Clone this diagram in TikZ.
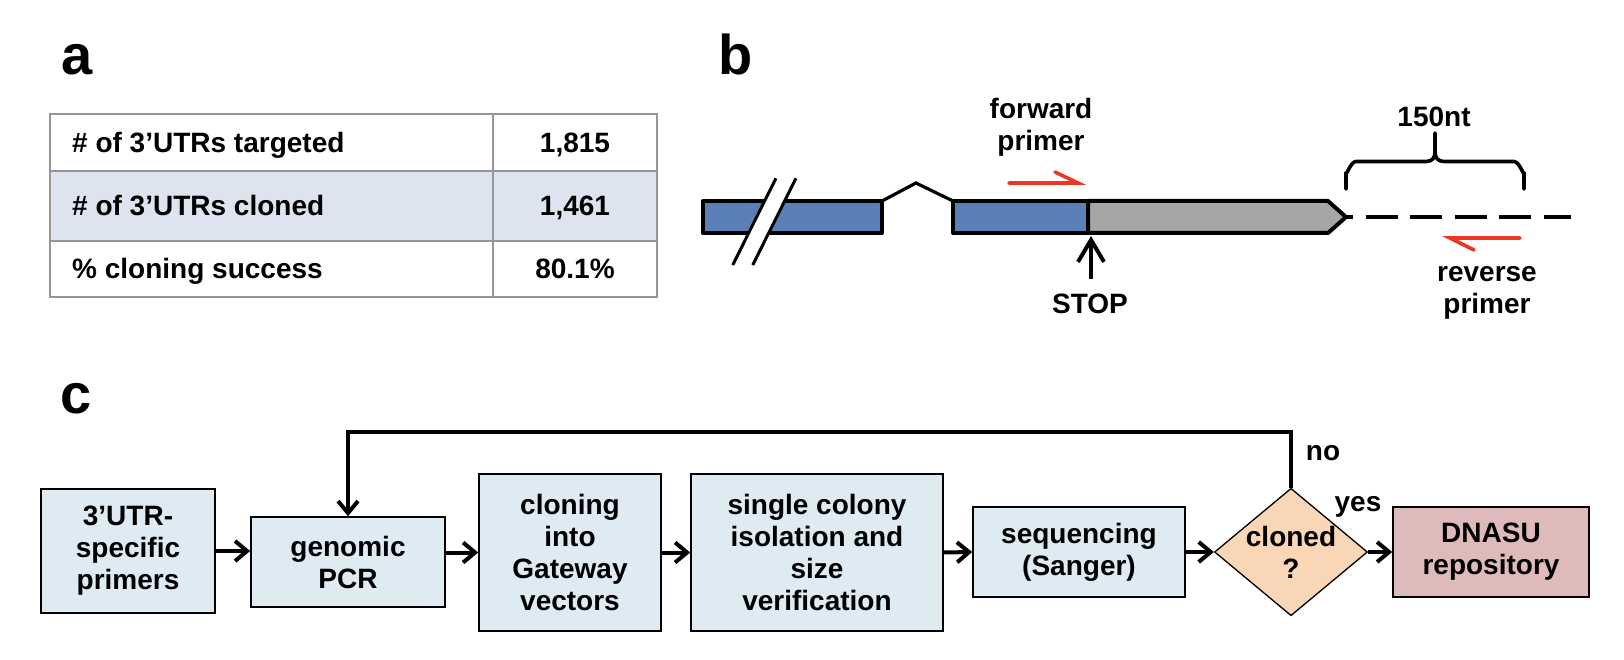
\documentclass[tikz,border=0pt]{standalone}
\usepackage{fontspec}
\setmainfont{Liberation Sans}
\usepackage{xcolor}
\usetikzlibrary{shapes.geometric,arrows.meta}

\definecolor{exonblue}{RGB}{90,128,182}
\definecolor{utrgray}{RGB}{166,166,166}
\definecolor{rowblue}{RGB}{221,228,240}
\definecolor{gridgray}{RGB}{150,150,150}
\definecolor{boxblue}{RGB}{222,235,243}
\definecolor{peach}{RGB}{248,214,182}
\definecolor{rose}{RGB}{222,186,186}
\definecolor{primerred}{RGB}{235,56,36}

\begin{document}
\begin{tikzpicture}[x=1pt,y=-1pt,
    >={Straight Barb[length=12pt,width=20pt]},
    lbl/.style={font=\bfseries\fontsize{28}{32}\selectfont, inner sep=0pt, align=center},
    tag/.style={font=\bfseries\fontsize{56}{60}\selectfont, inner sep=0pt, anchor=base west},
    flowbox/.style={draw, line width=1.6pt, fill=boxblue, lbl},
    decision/.style={diamond, draw, line width=1.3pt, fill=peach, lbl, aspect=1.2},
    flow/.style={line width=4pt, ->},
    exon/.style={draw, line width=4pt, line join=round},
    primer/.style={primerred, line width=3.6pt, line cap=round}]
    \useasboundingbox (0,0) rectangle (1624,660);

    % panel a
    \node[tag] (taga) at (61,75) {a};
    \fill[rowblue] (50,171) rectangle (657,241);
    \draw[gridgray, line width=1.2pt] (50,114) rectangle (657,297);
    \draw[gridgray, line width=1.2pt] (50,171) -- (657,171);
    \draw[gridgray, line width=1.2pt] (50,241) -- (657,241);
    \draw[gridgray, line width=1.2pt] (493,114) -- (493,297);
    \node[lbl, anchor=base west] (targeted) at (72,152.3) {\# of 3’UTRs targeted};
    \node[lbl, anchor=base west] (cloned) at (72,216) {\# of 3’UTRs cloned};
    \node[lbl, anchor=base west] (success) at (72,279) {\% cloning success};
    \node[lbl, anchor=base] (ntargeted) at (575,152.3) {1,815};
    \node[lbl, anchor=base] (ncloned) at (575,216) {1,461};
    \node[lbl, anchor=base] (nsuccess) at (575,279) {80.1\%};

    % panel b
    \node[tag] (tagb) at (718,75) {b};
    \draw[exon, fill=exonblue] (703,201) rectangle (882,233);
    \fill[white] (732.7,265) -- (776,178.3) -- (796,178.3) -- (752.7,265) -- cycle;
    \draw[line width=3pt] (732.7,265) -- (776,178.3);
    \draw[line width=3pt] (752.7,265) -- (796,178.3);
    \draw[line width=3.2pt] (882,201) -- (916,183) -- (953,201);
    \draw[exon, fill=exonblue] (953,201) rectangle (1088,233);
    \draw[exon, fill=utrgray] (1088,201) -- (1328,201) -- (1346,217) -- (1328,233) -- (1088,233) -- cycle;
    \draw[line width=4pt, dash pattern=on 32pt off 12.5pt, dash phase=25pt] (1346,217) -- (1571,217);

    \node[lbl] (fwd) at (1041,127.3) {forward\\primer};
    \draw[primer] (1009,183) -- (1078,183) -- (1055,172);
    \node[lbl] (rev) at (1487,293) {reverse\\primer};
    \draw[primer] (1520,238) -- (1450,238) -- (1474,250);

    \draw[line width=4pt, -{Straight Barb[length=22pt,width=26pt]}] (1091,279) -- (1091,236);
    \node[lbl, anchor=base] (stop) at (1090,313) {STOP};

    \draw[line width=3.6pt, line cap=round] (1346,189) -- (1346,172) to[out=-90,in=180] (1356,161.5) -- (1426,161.5) .. controls (1432,161.5) and (1435,158) .. (1435,152) -- (1435,133);
    \draw[line width=3.6pt, line cap=round] (1524,189) -- (1524,172) to[out=-90,in=0] (1514,161.5) -- (1444,161.5) .. controls (1438,161.5) and (1435,158) .. (1435,152);
    \node[lbl, anchor=base] (span) at (1434,127) {150nt};

    % panel c
    \node[tag] (tagc) at (60,413) {c};
    \node[flowbox, minimum width=174pt, minimum height=124pt] (utrprimers) at (128,551) {3’UTR-\\specific\\primers};
    \node[flowbox, minimum width=194pt, minimum height=90pt] (genpcr) at (348,562) {genomic\\PCR};
    \node[flowbox, minimum width=182pt, minimum height=157pt] (gateway) at (570,552.5) {cloning\\into\\Gateway\\vectors};
    \node[flowbox, minimum width=252pt, minimum height=157pt] (colony) at (817,552.5) {single colony\\isolation and\\size\\verification};
    \node[flowbox, minimum width=212pt, minimum height=90pt] (sequencing) at (1079,552) {sequencing\\(Sanger)};
    \node[decision, minimum width=150pt, minimum height=124pt] (decide) at (1291,552) {cloned\\?};
    \node[flowbox, fill=rose, minimum width=196pt, minimum height=90pt] (dnasu) at (1491,552) {DNASU\\repository};

    \draw[flow] (utrprimers.east) -- (utrprimers.east -| genpcr.west);
    \draw[flow] (genpcr.east |- gateway.west) -- (gateway.west);
    \draw[flow] (gateway.east) -- (colony.west);
    \draw[flow] (colony.east) -- (sequencing.west);
    \draw[flow] (sequencing.east) -- (decide.west);
    \draw[flow] (decide.east) -- (dnasu.west);

    \coordinate (looptop) at (1291,431.7);
    \draw[flow] (decide.north) -- (looptop) -| (genpcr.north);
    \node[lbl, anchor=base] (no) at (1323,460) {no};
    \node[lbl, anchor=base] (yes) at (1358,511) {yes};
\end{tikzpicture}
\end{document}
